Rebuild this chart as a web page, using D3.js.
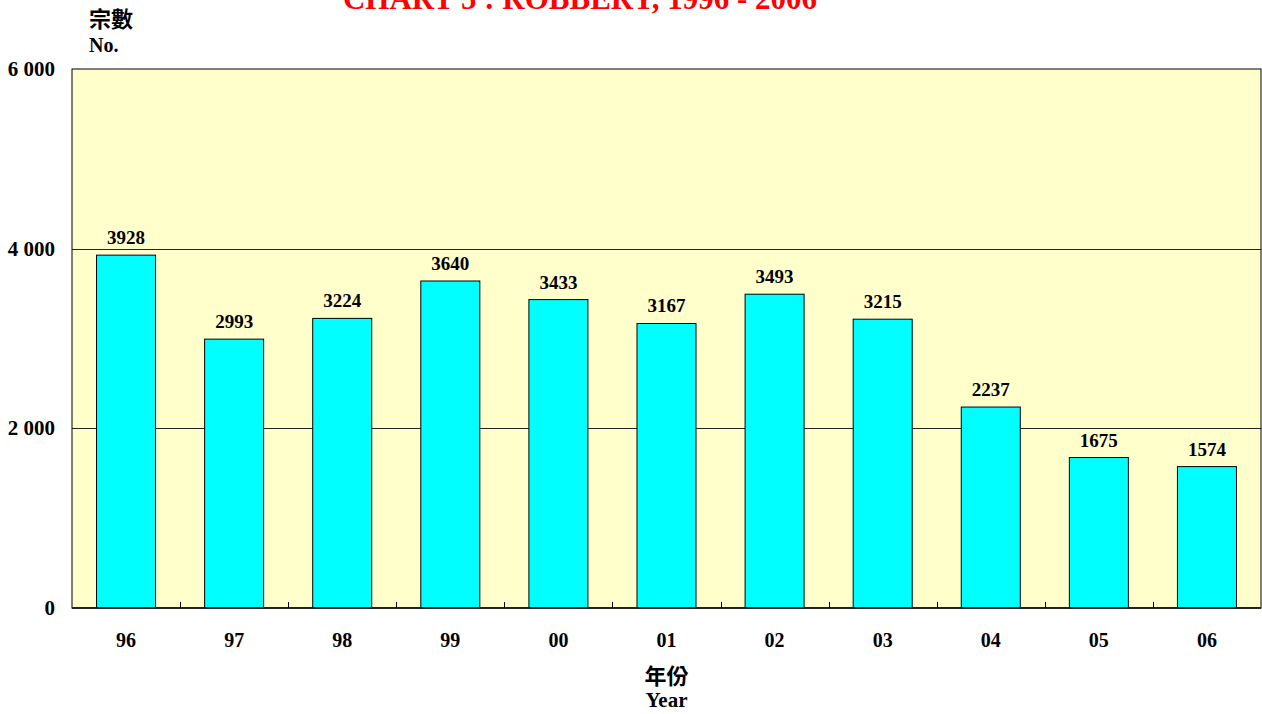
<!doctype html>
<html>
<head>
    <meta charset="utf-8">
    <style>
        body {
            margin: 0;
            background: #ffffff;
        }
        text {
            font-family: "Liberation Serif", "Times New Roman", serif;
            font-weight: bold;
        }
        .cjk {
            font-family: "Noto Sans CJK TC", "Noto Sans CJK SC", sans-serif;
            font-weight: bold;
        }
    </style>
    <script src="https://d3js.org/d3.v7.min.js"></script>
</head>
<body>
<div id="chart"></div>
<script>
    // data
    var years = ["96", "97", "98", "99", "00", "01", "02", "03", "04", "05", "06"];
    var cases = [3928, 2993, 3224, 3640, 3433, 3167, 3493, 3215, 2237, 1675, 1574];
    var yTicks = [0, 2000, 4000, 6000];

    var W = 1262, H = 714;
    var margin = {top: 69, right: 1, bottom: 106, left: 72};
    var width = W - margin.left - margin.right,
        height = H - margin.top - margin.bottom;

    var svg = d3.select("#chart")
        .append("svg")
        .attr("width", W)
        .attr("height", H);

    var g = svg.append("g")
        .attr("transform", "translate(" + margin.left + "," + margin.top + ")");

    var x = d3.scaleBand()
        .domain(years)
        .range([0, width])
        .paddingInner(0.454)
        .paddingOuter(0.227);

    var y = d3.scaleLinear()
        .domain([0, 6000])
        .range([height, 0]);

    // plot background
    g.append("rect")
        .attr("width", width)
        .attr("height", height)
        .attr("fill", "#ffffcc");

    // gridlines
    g.selectAll(".grid")
        .data(yTicks.filter(function(d) { return d > 0 && d < 6000; }))
        .enter()
        .append("line")
        .attr("x1", 0)
        .attr("x2", width)
        .attr("y1", function(d) { return Math.round(y(d)) + 0.5; })
        .attr("y2", function(d) { return Math.round(y(d)) + 0.5; })
        .attr("stroke", "#222")
        .attr("stroke-width", 1);

    // bars
    g.selectAll(".bar")
        .data(cases)
        .enter()
        .append("rect")
        .attr("x", function(d, i) { return x(years[i]); })
        .attr("y", function(d) { return y(d); })
        .attr("width", x.bandwidth())
        .attr("height", function(d) { return height - y(d); })
        .attr("fill", "#00ffff")
        .attr("stroke", "#000")
        .attr("stroke-width", 1);

    // value labels
    g.selectAll(".val")
        .data(cases)
        .enter()
        .append("text")
        .attr("x", function(d, i) { return x(years[i]) + x.bandwidth() / 2; })
        .attr("y", function(d) { return y(d) - 11; })
        .attr("text-anchor", "middle")
        .attr("font-size", "19px")
        .text(function(d) { return d; });

    // frame
    g.append("rect")
        .attr("width", width)
        .attr("height", height)
        .attr("fill", "none")
        .attr("stroke", "#000")
        .attr("stroke-width", 1);
    g.append("line")
        .attr("x1", 0).attr("x2", width)
        .attr("y1", height).attr("y2", height)
        .attr("stroke", "#222").attr("stroke-width", 2);

    // x ticks between categories, pointing up into the plot
    var step = x.step();
    g.selectAll(".xtick")
        .data(years.slice(1))
        .enter()
        .append("line")
        .attr("x1", function(d) { return Math.round(x(d) - (step - x.bandwidth()) / 2) + 0.5; })
        .attr("x2", function(d) { return Math.round(x(d) - (step - x.bandwidth()) / 2) + 0.5; })
        .attr("y1", height)
        .attr("y2", height - 6)
        .attr("stroke", "#000");

    // x labels
    g.selectAll(".xlab")
        .data(years)
        .enter()
        .append("text")
        .attr("x", function(d) { return x(d) + x.bandwidth() / 2; })
        .attr("y", height + 39)
        .attr("text-anchor", "middle")
        .attr("font-size", "20px")
        .text(function(d) { return d; });

    // y labels
    g.selectAll(".ylab")
        .data(yTicks)
        .enter()
        .append("text")
        .attr("x", -17)
        .attr("y", function(d) { return y(d) + 7; })
        .attr("text-anchor", "end")
        .attr("font-size", "21px")
        .text(function(d) { return d === 0 ? "0" : d3.format(",")(d).replace(",", " "); });

    // axis titles
    svg.append("text")
        .attr("class", "cjk")
        .attr("x", 89)
        .attr("y", 27)
        .attr("font-size", "22px")
        .text("宗數");
    svg.append("text")
        .attr("x", 89)
        .attr("y", 52)
        .attr("font-size", "20px")
        .text("No.");
    svg.append("text")
        .attr("class", "cjk")
        .attr("x", margin.left + width / 2)
        .attr("y", 684)
        .attr("text-anchor", "middle")
        .attr("font-size", "22px")
        .text("年份");
    svg.append("text")
        .attr("x", margin.left + width / 2)
        .attr("y", 707)
        .attr("text-anchor", "middle")
        .attr("font-size", "21px")
        .text("Year");

    // title (clipped at the top edge, as in the reference)
    svg.append("text")
        .attr("x", 580)
        .attr("y", 9)
        .attr("text-anchor", "middle")
        .attr("font-size", "31px")
        .attr("fill", "#ff0000")
        .text("CHART 5 : ROBBERY, 1996 - 2006");
</script>
</body>
</html>
